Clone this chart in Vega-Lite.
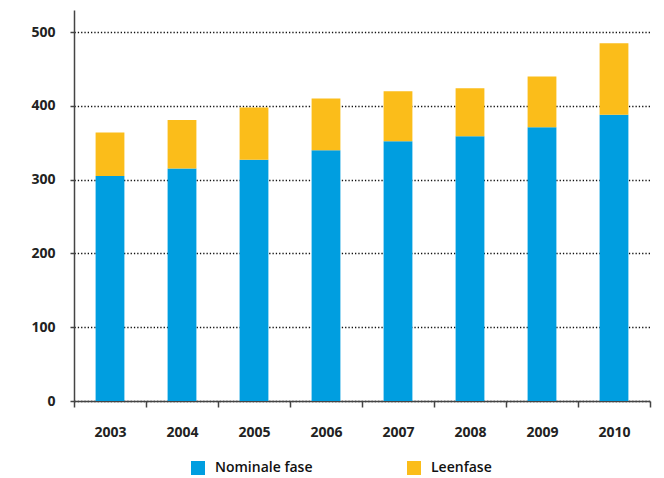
{
  "$schema": "https://vega.github.io/schema/vega-lite/v6.json",
  "width": 576,
  "height": 391,
  "autosize": {"type": "none"},
  "padding": {"left": 74, "top": 10, "right": 14, "bottom": 77},
  "background": "white",
  "config": {
    "view": {"stroke": null},
    "font": "Open Sans"
  },
  "data": {
    "values": [
      {"jaar": "2003", "fase": "Nominale fase", "waarde": 305},
      {"jaar": "2003", "fase": "Leenfase", "waarde": 59},
      {"jaar": "2004", "fase": "Nominale fase", "waarde": 315},
      {"jaar": "2004", "fase": "Leenfase", "waarde": 66},
      {"jaar": "2005", "fase": "Nominale fase", "waarde": 327},
      {"jaar": "2005", "fase": "Leenfase", "waarde": 71},
      {"jaar": "2006", "fase": "Nominale fase", "waarde": 340},
      {"jaar": "2006", "fase": "Leenfase", "waarde": 70},
      {"jaar": "2007", "fase": "Nominale fase", "waarde": 352},
      {"jaar": "2007", "fase": "Leenfase", "waarde": 68},
      {"jaar": "2008", "fase": "Nominale fase", "waarde": 359},
      {"jaar": "2008", "fase": "Leenfase", "waarde": 65},
      {"jaar": "2009", "fase": "Nominale fase", "waarde": 371},
      {"jaar": "2009", "fase": "Leenfase", "waarde": 69},
      {"jaar": "2010", "fase": "Nominale fase", "waarde": 388},
      {"jaar": "2010", "fase": "Leenfase", "waarde": 97}
    ]
  },
  "mark": {"type": "bar", "width": {"band": 0.4}},
  "encoding": {
    "x": {
      "field": "jaar",
      "type": "nominal",
      "scale": {"paddingInner": 0, "paddingOuter": 0},
      "axis": {
        "title": null,
        "labelAngle": 0,
        "tickBand": "extent",
        "domainColor": "#444444",
        "domainWidth": 1.5,
        "tickColor": "#444444",
        "tickWidth": 1.5,
        "tickSize": 6,
        "labelPadding": 18,
        "labelFont": "Open Sans",
        "labelFontWeight": "bold",
        "labelFontSize": 14,
        "labelColor": "#222222",
        "grid": false
      }
    },
    "y": {
      "field": "waarde",
      "type": "quantitative",
      "stack": "zero",
      "scale": {"domain": [0, 530], "nice": false},
      "axis": {
        "title": null,
        "values": [0, 100, 200, 300, 400, 500],
        "domainColor": "#444444",
        "domainWidth": 1.5,
        "tickColor": "#444444",
        "tickWidth": 1.5,
        "tickSize": 4,
        "labelPadding": 15,
        "labelFont": "Open Sans",
        "labelFontWeight": "bold",
        "labelFontSize": 14,
        "labelColor": "#222222",
        "grid": true,
        "gridColor": "#111111",
        "gridDash": [1.3, 2],
        "gridWidth": 1.3
      }
    },
    "color": {
      "field": "fase",
      "type": "nominal",
      "scale": {"domain": ["Nominale fase", "Leenfase"], "range": ["#009ee0", "#fbbd1a"]},
      "legend": {
        "title": null,
        "orient": "none",
        "legendX": 117,
        "legendY": 451,
        "direction": "horizontal",
        "columns": 2,
        "columnPadding": 94,
        "padding": 0,
        "symbolType": "square",
        "symbolSize": 196,
        "symbolStrokeWidth": 0,
        "symbolOpacity": 1,
        "labelOffset": 10,
        "labelFont": "Open Sans",
        "labelFontWeight": 600,
        "labelFontSize": 14,
        "labelColor": "#111111"
      }
    },
    "order": {"field": "fase", "sort": "descending"}
  }
}
